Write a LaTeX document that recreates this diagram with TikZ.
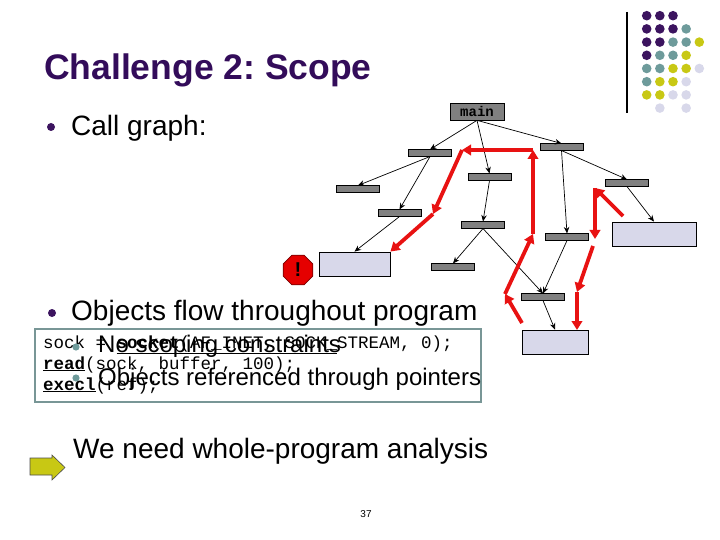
\documentclass[tikz,border=0pt]{standalone}
\usepackage{fontspec}
\setmainfont{Liberation Sans}
\setmonofont{Liberation Mono}
\usetikzlibrary{arrows.meta,shapes.geometric}
\definecolor{ttl}{RGB}{51,12,90}
\definecolor{pur}{RGB}{60,20,95}
\definecolor{tealc}{RGB}{110,155,155}
\definecolor{yel}{RGB}{200,200,20}
\definecolor{lav}{RGB}{216,216,234}
\definecolor{barg}{RGB}{128,128,128}
\definecolor{boxb}{RGB}{120,150,150}
\definecolor{redc}{RGB}{232,18,18}
\definecolor{stopd}{RGB}{120,0,0}
\frenchspacing
\begin{document}
\begin{tikzpicture}[x=1pt,y=-1pt,
  bar/.style={draw=black,fill=barg,line width=0.6pt,minimum width=43pt,minimum height=6.5pt,inner sep=0pt},
  leaf/.style={draw=black,fill=lav,line width=0.8pt,minimum height=24pt,inner sep=0pt},
  call/.style={-{Stealth[length=6.5pt,width=5.5pt]},line width=0.7pt},
  flow/.style={redc,line width=3.8pt,-{Triangle[length=9pt,width=10.5pt]}},
  txt/.style={anchor=base west,inner sep=0pt,font=\fontsize{28}{30}\selectfont},
  sub/.style={anchor=base west,inner sep=0pt,font=\fontsize{24}{26}\selectfont},
  code/.style={anchor=base west,inner sep=0pt,font=\ttfamily\fontsize{17.5}{19}\selectfont}]
\useasboundingbox (0,0) rectangle (720,540);
% decoration
\draw[line width=1.2pt] (627,12) -- (627,113);
\foreach \c/\r/\col in {0/0/pur,1/0/pur,2/0/pur,
  0/1/pur,1/1/pur,2/1/pur,3/1/tealc,
  0/2/pur,1/2/pur,2/2/tealc,3/2/tealc,4/2/yel,
  0/3/pur,1/3/tealc,2/3/tealc,3/3/yel,
  0/4/tealc,1/4/tealc,2/4/yel,3/4/yel,4/4/lav,
  0/5/tealc,1/5/yel,2/5/yel,3/5/lav,
  0/6/yel,1/6/yel,2/6/lav,3/6/lav,
  1/7/lav,3/7/lav}
  \fill[\col] ({646.7+13.15*\c},{15.7+13.2*\r}) circle (4.8);
% title and bullets
\node[anchor=base west,inner sep=0pt,text=ttl,font=\bfseries\fontsize{35.5}{38}\selectfont] (title) at (44,80) {Challenge 2: Scope};
\fill[pur] (51,127) circle (4);
\node[txt] (cg) at (71,136) {Call graph:};
\fill[pur] (52,313) circle (4);
\node[txt] (of) at (71,320) {Objects flow throughout program};
% code box
\draw[boxb,line width=2pt,fill=white] (35,329) rectangle (481,402);
\node[code] (c1) at (43,348) {sock = \underline{\textbf{socket}(AF\_INET, SOCK\_}STREAM, 0);};
\node[code] (c2) at (43,369) {\underline{\textbf{read}}(sock, buffer, 100);};
\node[code] (c3) at (43,390) {\underline{\textbf{execl}}(ref);};
\fill[tealc] (76,347) circle (3.6);
\node[sub] (s1) at (98,352) {No scoping constraints};
\fill[tealc] (76,378) circle (3.6);
\node[sub] (s2) at (98,385) {Objects referenced through pointers};
% conclusion
\draw[draw=black!70,fill=yel,line width=0.6pt] (30,458) -- (52,458) -- (52,455) -- (65,467.5) -- (52,480) -- (52,475) -- (30,475) -- cycle;
\node[txt] (we) at (73,458) {We need whole-program analysis};
\node[anchor=base,inner sep=0pt,font=\fontsize{10}{12}\selectfont] (pg) at (366,517) {37};
% call graph
\node[draw=black,fill=barg,line width=0.7pt,minimum width=54pt,minimum height=17pt,inner sep=0pt,font=\ttfamily\bfseries\fontsize{14}{15}\selectfont] (main) at (477,111.5) {main};
\node[bar] (A) at (430,153) {};
\node[bar] (B) at (561.5,147) {};
\node[bar] (C) at (489.5,177) {};
\node[bar] (D) at (358,189) {};
\node[bar] (E) at (399.5,213) {};
\node[bar] (F) at (627,183) {};
\node[bar] (G) at (483,225) {};
\node[bar] (H) at (567,237) {};
\node[bar] (I) at (453,267) {};
\node[bar] (J) at (543,297) {};
\node[leaf,minimum width=84pt] (R1) at (654,234) {};
\node[leaf,minimum width=71pt] (L1) at (354.5,264) {};
\node[leaf,minimum width=66pt] (R2) at (555,342) {};
\node[regular polygon,regular polygon sides=8,minimum size=32pt,inner sep=0pt,fill=red!90!black,draw=stopd,line width=0.8pt,font=\bfseries\fontsize{20}{20}\selectfont] (stop) at (298,270) {!};
\draw[call] (main.south) -- (A.north);
\draw[call] (main.south) -- (C.north);
\draw[call] (main.south) -- (B.north);
\draw[call] (A.south) -- (D.north);
\draw[call] (A.south) -- (E.north);
\draw[call] (E.south) -- (L1.north);
\draw[call] (C.south) -- (G.north);
\draw[call] (G.south) -- (I.north);
\draw[call] (G.south) -- (J.north);
\draw[call] (B.south) -- (F.north);
\draw[call] (B.south) -- (H.north);
\draw[call] (H.south) -- (J.north);
\draw[call] (F.south) -- (R1.north);
\draw[call] (J.south) -- (R2.north);
% red flows
\coordinate (p0) at (522,323);
\coordinate (p1) at (505,294);
\coordinate (p2) at (533,234);
\coordinate (p3) at (533,150);
\coordinate (p4) at (462,150);
\coordinate (p5) at (433,214);
\coordinate (q0) at (623,216);
\coordinate (q1) at (595,188);
\coordinate (q2) at (595,239);
\coordinate (q3) at (593,246);
\coordinate (q4) at (577,292);
\coordinate (q5) at (577,330);
\draw[flow] (p0) -- (p1);
\draw[flow] (p1) -- (p2);
\draw[flow] (p2) -- (p3);
\draw[flow] (p3) -- (p4);
\draw[flow] (p4) -- (p5);
\draw[flow] (p5) -- (L1.north east);
\draw[flow] (q0) -- (q1);
\draw[flow] (q1) -- (q2);
\draw[flow] (q3) -- (q4);
\draw[flow] (q4) -- (q5);
\end{tikzpicture}
\end{document}
